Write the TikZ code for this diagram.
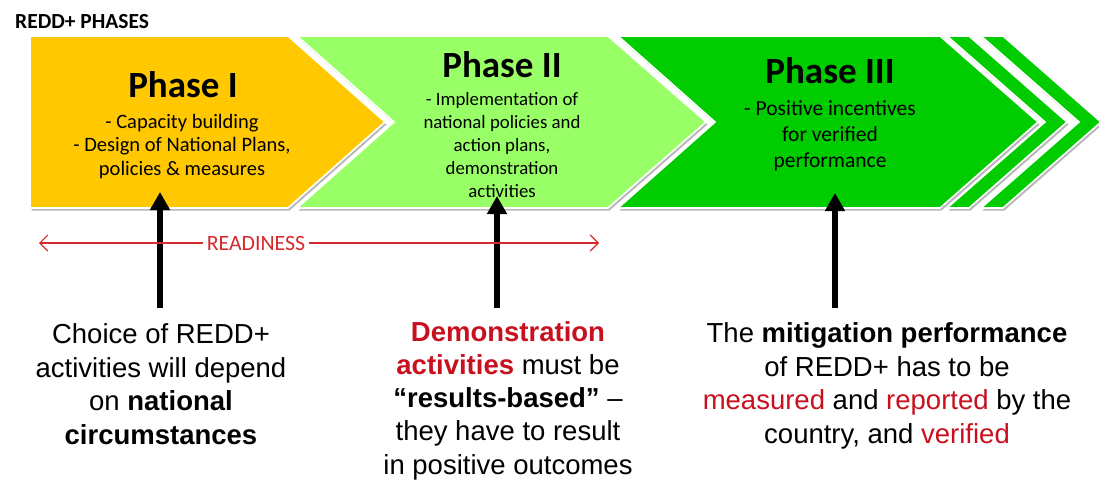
\documentclass[tikz,border=0pt]{standalone}
\usepackage{fontspec}
\setmainfont{Liberation Sans}
\newfontfamily\calfont{Carlito}
\usetikzlibrary{arrows.meta}
\definecolor{phaseone}{RGB}{255,200,0}
\definecolor{phasetwo}{RGB}{153,255,102}
\definecolor{phasethree}{RGB}{0,204,0}
\definecolor{txtred}{RGB}{200,16,30}
\definecolor{readred}{RGB}{215,40,45}
\tikzset{
  shadowfill/.style={fill=black!28, shift={(1.5,2.5)}},
  chevron/.style={fill=#1, draw=white, line width=1.6pt, line join=miter},
  phasetitle/.style={font=\calfont\bfseries\fontsize{37}{40}\selectfont, inner sep=0pt, anchor=base},
  phasebody/.style={font=\calfont\fontsize{#1}{23.5}\selectfont, inner sep=0pt, anchor=north, align=center},
  bottomtext/.style={font=\fontsize{27.5}{33.8}\selectfont, inner sep=0pt, anchor=north, align=center},
  bigarrow/.style={line width=6pt, -{Triangle[length=18pt,width=19pt]}},
  readarrow/.style={readred, line width=1.1pt, -{Straight Barb[length=8pt,width=16pt]}},
}
\begin{document}
\begin{tikzpicture}[x=1pt,y=-1pt]
\useasboundingbox (0,0) rectangle (1099,481);
\fill[white] (0,0) rectangle (1099,481);

% shadows
\fill[shadowfill] (30,36) -- (288,36) -- (385,122) -- (288,208) -- (30,208) -- cycle;
\fill[shadowfill] (297,36) -- (608,36) -- (706,122) -- (608,208) -- (297,208) -- (394,122) -- cycle;
\fill[shadowfill] (618,36) -- (940,36) -- (1038,122) -- (940,208) -- (618,208) -- (715,122) -- cycle;
\fill[shadowfill] (947,36) -- (969,36) -- (1067,122) -- (969,208) -- (947,208) -- (1045,122) -- cycle;
\fill[shadowfill] (981,36) -- (1003,36) -- (1101,122) -- (1003,208) -- (981,208) -- (1079,122) -- cycle;
% chevrons
\draw[chevron=phasethree] (981,36) -- (1003,36) -- (1101,122) -- (1003,208) -- (981,208) -- (1079,122) -- cycle;
\draw[chevron=phasethree] (947,36) -- (969,36) -- (1067,122) -- (969,208) -- (947,208) -- (1045,122) -- cycle;
\draw[chevron=phasethree] (618,36) -- (940,36) -- (1038,122) -- (940,208) -- (618,208) -- (715,122) -- cycle;
\draw[chevron=phasetwo] (297,36) -- (608,36) -- (706,122) -- (608,208) -- (297,208) -- (394,122) -- cycle;
\draw[chevron=phaseone] (30,36) -- (288,36) -- (385,122) -- (288,208) -- (30,208) -- cycle;

% header
\node[anchor=base west, inner sep=0pt, font=\calfont\bfseries\fontsize{21.5}{24}\selectfont] (hdr) at (15,28.5) {REDD+ PHASES};

% phase texts
\node[phasetitle] (p1t) at (183,98) {Phase I};
\node[phasebody=20.5] (p1b) at (182,107.5) {\rule{0pt}{1em}- Capacity building\\- Design of National Plans,\\policies \& measures};

\node[phasetitle] (p2t) at (502,78) {Phase II};
\node[phasebody=18.8, font=\calfont\fontsize{18.8}{23}\selectfont] (p2b) at (502,86.2) {\rule{0pt}{1em}- Implementation of\\national policies and\\action plans,\\demonstration\\activities};

\node[phasetitle] (p3t) at (830,84) {Phase III};
\node[phasebody=21.5, font=\calfont\fontsize{21.5}{26}\selectfont] (p3b) at (830,93.5) {\rule{0pt}{1em}- Positive incentives\\for verified\\performance};

% big arrows
\coordinate (a1s) at (160,308); \coordinate (a1e) at (160,192);
\coordinate (a2s) at (497,308); \coordinate (a2e) at (497,196);
\coordinate (a3s) at (835,308); \coordinate (a3e) at (835,193);
\draw[bigarrow] (a1s) -- (a1e);
\draw[bigarrow] (a2s) -- (a2e);
\draw[bigarrow] (a3s) -- (a3e);

% readiness
\node[inner sep=0pt, text=readred, font=\calfont\fontsize{21.8}{24}\selectfont] (rd) at (256,243.5) {READINESS};
\coordinate (rl) at (39,243); \coordinate (rr) at (599,243);
\draw[readarrow] ([xshift=-4pt]rd.west |- rl) -- (rl);
\draw[readarrow] ([xshift=4pt]rd.east |- rr) -- (rr);

% bottom texts
\node[bottomtext] (bt1) at (161,315.5) {\rule{0pt}{1em}Choice of REDD+\\activities will depend\\on \textbf{national}\\\textbf{circumstances}};
\node[bottomtext, font=\fontsize{27.5}{33.2}\selectfont] (bt2) at (508,313.5) {\rule{0pt}{1em}\textcolor{txtred}{\textbf{Demonstration}}\\\textcolor{txtred}{\textbf{activities}} must be\\\textbf{“results-based”} –\\they have to result\\in positive outcomes};
\node[bottomtext] (bt3) at (887,314.5) {\rule{0pt}{1em}The \textbf{mitigation performance}\\of REDD+ has to be\\\textcolor{txtred}{measured} and \textcolor{txtred}{reported} by the\\country, and \textcolor{txtred}{verified}};
\end{tikzpicture}
\end{document}
